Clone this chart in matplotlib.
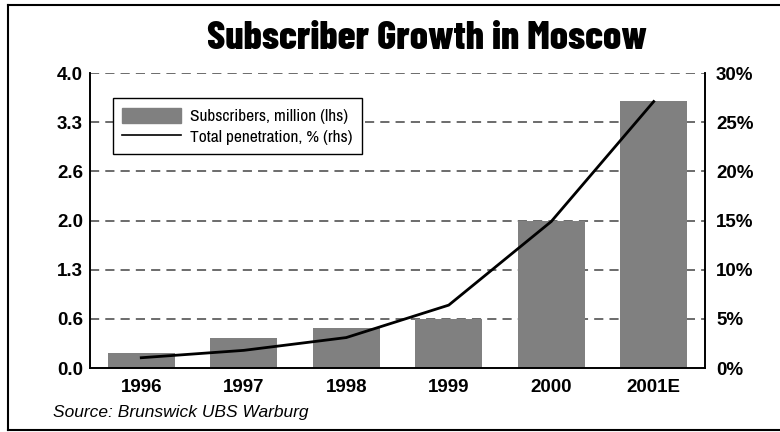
import matplotlib
matplotlib.use("Agg")
import matplotlib.pyplot as plt
from matplotlib.lines import Line2D
from matplotlib.patches import Patch

# values
years = ["1996", "1997", "1998", "1999", "2000", "2001E"]
subscribers = [0.20, 0.41, 0.54, 0.67, 2.00, 3.62]   # million (lhs)
penetration = [1.05, 1.8, 3.1, 6.4, 14.9, 27.1]      # % (rhs)
left_ticks = [0, 4 / 6, 8 / 6, 2, 16 / 6, 20 / 6, 4]
left_labels = ["0.0", "0.6", "1.3", "2.0", "2.6", "3.3", "4.0"]
right_ticks = [0, 5, 10, 15, 20, 25, 30]

plt.rcParams["font.family"] = ["Liberation Sans", "DejaVu Sans"]

fig = plt.figure(figsize=(7.8, 4.32), dpi=100)
ax = fig.add_axes([0.1154, 0.148, 0.7884, 0.683])
ax2 = ax.twinx()

x = range(len(years))
ax.bar(x, subscribers, width=0.65, color="#808080", zorder=2)
ax.set_xlim(-0.5, 5.5)
ax.set_ylim(0, 4)
ax.set_yticks(left_ticks)
ax.set_yticklabels(left_labels, fontsize=13.5, fontweight="bold")
ax.set_xticks(list(x))
ax.set_xticklabels(years, fontsize=13.5, fontweight="bold")
ax.tick_params(length=0, pad=5)
ax.tick_params(axis="x", pad=8)
for yv in left_ticks[1:]:
    ax.axhline(yv, color="#444444", lw=1.1, ls=(0, (6, 4)), zorder=1)

ax2.plot(list(x), penetration, color="black", lw=2, zorder=3)
ax2.set_ylim(0, 30)
ax2.set_yticks(right_ticks)
ax2.set_yticklabels([f"{t}%" for t in right_ticks], fontsize=13.5, fontweight="bold")
ax2.tick_params(length=0, pad=8)

for a in (ax, ax2):
    a.spines["top"].set_visible(False)
    for s in ("left", "right", "bottom"):
        a.spines[s].set_linewidth(1.2)

handles = [Patch(color="#808080"), Line2D([], [], color="black", lw=1.2)]
leg = ax.legend(handles, ["Subscribers, million (lhs)", "Total penetration, % (rhs)"],
                loc="upper left", bbox_to_anchor=(0.037, 0.915), frameon=True,
                fancybox=False, framealpha=1, edgecolor="black",
                prop={"family": ["Archivo Narrow", "DejaVu Sans"], "size": 12.5},
                handlelength=3.4, handleheight=1.0, labelspacing=0.2,
                borderpad=0.55, handletextpad=0.5, borderaxespad=0)
leg.get_frame().set_linewidth(1.0)

fig.text(0.547, 0.91, "Subscriber Growth in Moscow", ha="center", va="center",
         fontsize=29, fontweight=800, family=["Barlow Condensed", "DejaVu Sans"])
fig.text(0.068, 0.044, "Source: Brunswick UBS Warburg", ha="left", va="center",
         fontsize=12.5, style="italic")

# frame around the figure (left, top, bottom)
for xs, ys in (([0.0103, 0.0103], [0.005, 0.988]),
               ([0.0103, 1.0], [0.988, 0.988]),
               ([0.0103, 1.0], [0.005, 0.005])):
    fig.add_artist(Line2D(xs, ys, color="black", lw=1.5, transform=fig.transFigure))

fig.savefig("out.png", dpi=100)
